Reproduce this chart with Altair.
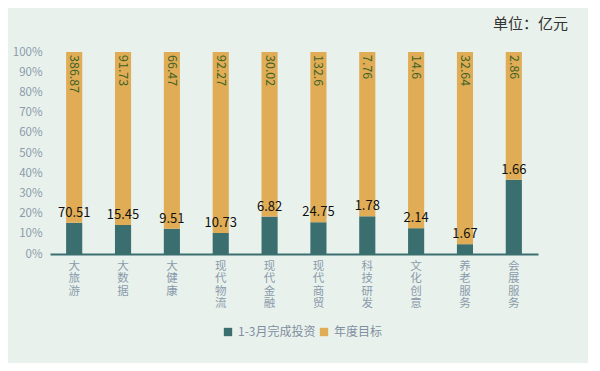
import altair as alt
import pandas as pd

categories = ["大旅游", "大数据", "大健康", "现代物流", "现代金融", "现代商贸", "科技研发", "文化创意", "养老服务", "会展服务"]
done_values = [70.51, 15.45, 9.51, 10.73, 6.82, 24.75, 1.78, 2.14, 1.67, 1.66]
target_values = [386.87, 91.73, 66.47, 92.27, 30.02, 132.6, 7.76, 14.6, 32.64, 2.86]
series_names = ["1-3月完成投资", "年度目标"]
y_ticks = [0.0, 0.1, 0.2, 0.3, 0.4, 0.5, 0.6, 0.7, 0.8, 0.9, 1.0]

rows = []
for c, d, t in zip(categories, done_values, target_values):
    rows.append({"cat": c, "series": series_names[0], "value": d, "ord": 0})
    rows.append({"cat": c, "series": series_names[1], "value": t, "ord": 1})
df = pd.DataFrame(rows)
lab = pd.DataFrame({"cat": categories, "done": done_values, "target": target_values})

FONT = "Noto Sans CJK SC"
AXC = "#8A9BAB"

x_axis = alt.Axis(labelAngle=0, labelExpr="split(datum.label, '')",
                  labelLineHeight=12.5, labelFontSize=11.5, labelColor=AXC,
                  labelFont=FONT, ticks=False, domainColor="#3B6E6E",
                  domainWidth=2, labelPadding=6, labelBaseline="top",
                  labelOverlap=False)
y_axis = alt.Axis(format=".0%", values=y_ticks,
                  grid=False, ticks=False, domain=False,
                  labelColor=AXC, labelFontSize=11.5, labelFont=FONT,
                  labelPadding=8, labelOverlap=False, labelFlush=False)
x_scale = alt.Scale(paddingInner=0.67, paddingOuter=0.33)
y_scale = alt.Scale(domain=[0, 1], nice=False)

bars = alt.Chart(df).mark_bar().encode(
    x=alt.X("cat:N", sort=categories, title=None, scale=x_scale, axis=x_axis),
    y=alt.Y("value:Q", stack="normalize", title=None, scale=y_scale, axis=y_axis),
    color=alt.Color("series:N", sort=series_names,
                    scale=alt.Scale(domain=series_names, range=["#3B6E6E", "#E0AC55"]),
                    legend=alt.Legend(title=None, orient="none", direction="horizontal",
                                      legendX=172, legendY=274, symbolType="square",
                                      symbolSize=70, symbolStrokeWidth=0,
                                      labelFontSize=12, labelColor="#7F8FA0",
                                      labelFont=FONT, columnPadding=2, symbolOffset=0)),
    order=alt.Order("ord:Q", sort="ascending"),
)

base_lab = alt.Chart(lab).transform_calculate(
    frac="datum.done / (datum.done + datum.target)"
)

done_text = base_lab.mark_text(baseline="bottom", dy=-3, fontSize=13, color="#111",
                               font=FONT).encode(
    x=alt.X("cat:N", sort=categories, title=None, scale=x_scale, axis=x_axis),
    y=alt.Y("frac:Q", title=None, scale=y_scale, axis=y_axis),
    text=alt.Text("done:Q"),
)

target_text = base_lab.mark_text(angle=90, align="left", baseline="middle", dx=3,
                                 fontSize=12.5, color="#3F6326", font=FONT).encode(
    x=alt.X("cat:N", sort=categories, title=None, scale=x_scale, axis=x_axis),
    y=alt.value(0),
    text=alt.Text("target:Q"),
)

chart = alt.layer(bars, done_text, target_text).properties(
    width=488, height=202,
    autosize=alt.AutoSizeParams(type="none"),
    padding={"left": 42, "top": 44, "right": 50, "bottom": 109},
    background="#E9F1EC",
    title=alt.TitleParams("单位：亿元", anchor="end", dx=30, offset=14,
                          fontSize=15, fontWeight="normal", color="#333",
                          font=FONT),
).configure_view(stroke=None)

chart.save("out.html", embed_options={"renderer": "svg", "actions": False})
